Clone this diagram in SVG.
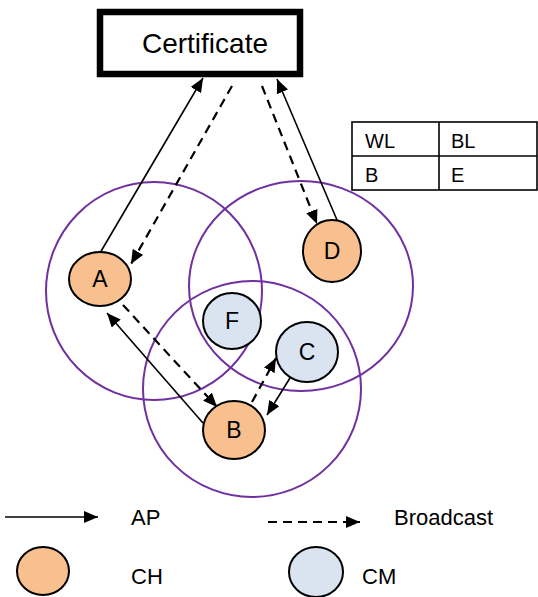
<svg xmlns="http://www.w3.org/2000/svg" width="538" height="597" viewBox="0 0 538 597">
<style>
  text { font-family: "Liberation Sans", Arial, sans-serif; fill: #000; }
  .lbl { font-size: 23px; text-anchor: middle; }
  .zone { fill: none; stroke: #7030A0; stroke-width: 2; }
  .ch { fill: #F8C08F; stroke: #000; stroke-width: 2; }
  .cm { fill: #DAE3F0; stroke: #000; stroke-width: 2; }
  .solid { stroke: #000; stroke-width: 1.6; fill: none; marker-end: url(#arr); }
  .dash { stroke: #000; stroke-width: 2.2; fill: none; stroke-dasharray: 9 6; marker-end: url(#arr); }
  .tbl { fill: none; stroke: #000; stroke-width: 1.6; }
  .tt { font-size: 20px; }
  .lg { font-size: 22px; }
</style>
<defs>
  <marker id="arr" viewBox="0 0 14 12" refX="14" refY="6" markerWidth="14" markerHeight="12" markerUnits="userSpaceOnUse" orient="auto">
    <path d="M0,0 L14,6 L0,12 Z" fill="#000"/>
  </marker>
</defs>
<rect width="538" height="597" fill="#fff"/>

<g id="certificate">
  <rect x="100" y="12" width="200" height="62" fill="#fff" stroke="#000" stroke-width="6.5"/>
  <text x="205" y="53" font-size="28" text-anchor="middle">Certificate</text>
</g>

<g id="table">
  <rect class="tbl" x="352" y="122" width="185" height="68"/>
  <line class="tbl" x1="352" y1="156" x2="537" y2="156"/>
  <line class="tbl" x1="439" y1="122" x2="439" y2="190"/>
  <text class="tt" x="365" y="148">WL</text>
  <text class="tt" x="451" y="148">BL</text>
  <text class="tt" x="365" y="182">B</text>
  <text class="tt" x="451" y="182">E</text>
</g>

<g id="zones">
  <ellipse class="zone" cx="154" cy="291" rx="108" ry="109"/>
  <ellipse class="zone" cx="301" cy="286" rx="112" ry="105"/>
  <ellipse class="zone" cx="252" cy="389" rx="109" ry="108"/>
</g>

<g id="connectors">
  <line class="solid" x1="100" y1="253" x2="203" y2="78"/>
  <line class="dash" x1="232" y1="86" x2="131" y2="264"/>
  <line class="dash" x1="262" y1="86" x2="317" y2="224"/>
  <line class="solid" x1="337" y1="220" x2="277" y2="79"/>
  <line class="dash" x1="123" y1="305" x2="217" y2="407"/>
  <line class="solid" x1="203" y1="423" x2="107" y2="313"/>
  <line class="dash" x1="252" y1="402" x2="276" y2="358"/>
  <line class="solid" x1="290" y1="378" x2="267" y2="415"/>
</g>

<g id="node-A">
  <ellipse class="ch" cx="100" cy="279" rx="31" ry="27"/>
  <text class="lbl" x="100" y="287">A</text>
</g>
<g id="node-D">
  <ellipse class="ch" cx="332" cy="251" rx="29" ry="31"/>
  <text class="lbl" x="332" y="259">D</text>
</g>
<g id="node-F">
  <ellipse class="cm" cx="232" cy="321" rx="29" ry="28"/>
  <text class="lbl" x="232" y="329">F</text>
</g>
<g id="node-C">
  <ellipse class="cm" cx="307" cy="352" rx="31" ry="30"/>
  <text class="lbl" x="307" y="360">C</text>
</g>
<g id="node-B">
  <ellipse class="ch" cx="234" cy="430" rx="31" ry="29"/>
  <text class="lbl" x="234" y="438">B</text>
</g>

<g id="legend">
  <line class="solid" x1="5" y1="517" x2="98" y2="517"/>
  <text class="lg" x="131" y="525">AP</text>
  <line class="dash" x1="268" y1="522" x2="360" y2="522"/>
  <text class="lg" x="394" y="525">Broadcast</text>
  <ellipse class="ch" cx="43" cy="571" rx="26" ry="24"/>
  <text class="lg" x="131" y="584">CH</text>
  <ellipse class="cm" cx="316" cy="572" rx="27" ry="25"/>
  <text class="lg" x="362" y="584">CM</text>
</g>
</svg>
